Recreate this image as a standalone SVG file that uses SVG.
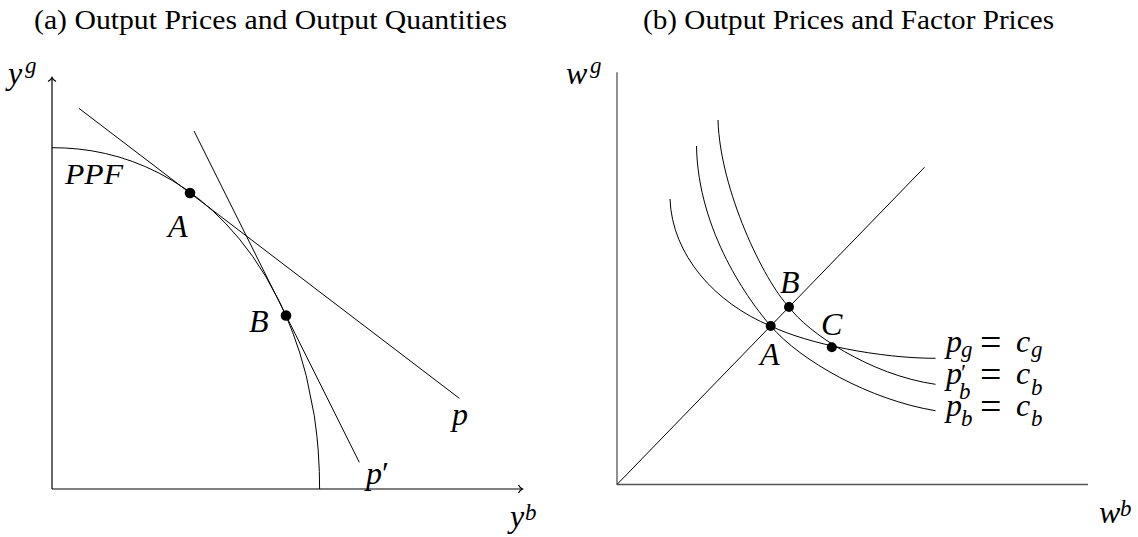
<svg xmlns="http://www.w3.org/2000/svg" width="1138" height="537" viewBox="0 0 1138 537">
<style>
  .title { font-family: "Liberation Serif", serif; font-size: 27px; fill: #000; }
  .m { font-family: "Liberation Serif", serif; font-style: italic; font-size: 32px; fill: #000; }
  .sub { font-size: 23px; }
  .up { font-style: normal; }
  .ln { fill: none; stroke: #000; stroke-width: 1; stroke-linejoin: round; stroke-linecap: butt; }
  .axa { fill: none; stroke: #000; stroke-width: 1.2; }
  .axb { fill: none; stroke: #555; stroke-width: 1.3; }
  .dot { fill: #000; }
</style>

<!-- Panel (a) -->
<g id="panel-a">
  <text id="title-a" class="title" x="34" y="29" textLength="473" lengthAdjust="spacingAndGlyphs">(a) Output Prices and Output Quantities</text>
  <g id="axes-a">
    <path class="axa" d="M52,489 L52,77.5"/>
    <path class="axa" d="M48,81.5 Q51,80 52,77.5 Q53,80 56,81.5"/>
    <path class="axa" d="M52,489 L522.5,489"/>
    <path class="axa" d="M518.5,485 Q520,488 522.5,489 Q520,490 518.5,493"/>
    <text class="m" x="8" y="83.5">y<tspan class="sub" x="25" y="73">g</tspan></text>
    <text class="m" x="510" y="527">y<tspan class="sub" x="525" y="520">b</tspan></text>
  </g>
  <g id="ppf">
    <path class="ln" d="M52,147.7 L65.38,148.02 L78.76,149.07 L92.14,150.89 L105.52,153.53 L118.9,157.02 L132.28,161.41 L145.66,166.75 L159.04,173.12 L172.42,180.58 L185.8,189.23 L199.18,199.2 L212.56,210.65 L225.94,223.79 L239.32,238.89 L252.7,256.43 L266.08,277.04 L279.46,301.77 L286.15,316.29 L292.84,332.79 L299.53,352.05 L306.22,375.55 L314.25,415.4 L316.92,436.12 L318.26,451.06 L319.33,471.48 L319.6,489"/>
    <text class="m" x="65" y="183.5" style="font-size:29px" textLength="58" lengthAdjust="spacingAndGlyphs">PPF</text>
  </g>
  <g id="line-p">
    <path class="ln" d="M78.9,108.3 L459.3,398.3"/>
    <text class="m" x="452" y="425">p</text>
  </g>
  <g id="line-p-prime">
    <path class="ln" d="M194,131 L359.3,462.3"/>
    <text class="m" x="366" y="483.5">p<tspan class="up">′</tspan></text>
  </g>
  <g id="point-a-A">
    <circle class="dot" cx="190" cy="193" r="5.3"/>
    <text class="m" x="168" y="237">A</text>
  </g>
  <g id="point-a-B">
    <circle class="dot" cx="286" cy="315.5" r="5.3"/>
    <text class="m" x="249" y="332">B</text>
  </g>
</g>

<!-- Panel (b) -->
<g id="panel-b">
  <text id="title-b" class="title" x="643" y="29" textLength="411" lengthAdjust="spacingAndGlyphs">(b) Output Prices and Factor Prices</text>
  <g id="axes-b">
    <path class="axb" d="M617,484.5 L617,72.3"/>
    <path class="axb" d="M617,484.5 L1088,484.5"/>
    <text class="m" x="566" y="83.5">w<tspan class="sub" x="590" y="73">g</tspan></text>
    <text class="m" x="1099" y="523">w<tspan class="sub" x="1120" y="516">b</tspan></text>
  </g>
  <g id="connectors">
    <path id="ray" class="ln" d="M617,484.5 L924.5,167.3"/>
    <path id="curve-pg" class="ln" d="M670,199 C672,255 715,303 770.7,326 C808,344 880,358.3 935.5,358.3"/>
    <path id="curve-pb-prime" class="ln" d="M718,120 C720,190 764,281 789,307 C807,332 870,375 935.5,384.3"/>
    <path id="curve-pb" class="ln" d="M696.5,146 C698,232 750,302 770.7,326 C800.7,361 870,400 935.5,410.7"/>
  </g>
  <g id="point-b-A">
    <circle class="dot" cx="770.7" cy="326" r="5"/>
    <text class="m" x="760" y="365">A</text>
  </g>
  <g id="point-b-B">
    <circle class="dot" cx="789" cy="307" r="5"/>
    <text class="m" x="780" y="293">B</text>
  </g>
  <g id="point-b-C">
    <circle class="dot" cx="831.8" cy="347.3" r="5"/>
    <text class="m" x="821" y="335">C</text>
  </g>
  <g id="label-pg">
    <text class="m" x="946" y="352">p<tspan class="sub" x="961" y="357">g</tspan><tspan class="up" style="font-size:38px" x="980" y="355">=</tspan><tspan x="1016" y="352">c</tspan><tspan class="sub" x="1031" y="357">g</tspan></text>
  </g>
  <g id="label-pb-prime">
    <text class="m" x="946" y="384">p<tspan class="up" style="font-size:24px" x="961" y="380">′</tspan><tspan class="sub" x="959" y="399">b</tspan><tspan class="up" style="font-size:38px" x="980" y="387">=</tspan><tspan x="1016" y="384">c</tspan><tspan class="sub" x="1031" y="395">b</tspan></text>
  </g>
  <g id="label-pb">
    <text class="m" x="946" y="416">p<tspan class="sub" x="961" y="426">b</tspan><tspan class="up" style="font-size:38px" x="980" y="419">=</tspan><tspan x="1016" y="416">c</tspan><tspan class="sub" x="1031" y="426">b</tspan></text>
  </g>
</g>
</svg>
